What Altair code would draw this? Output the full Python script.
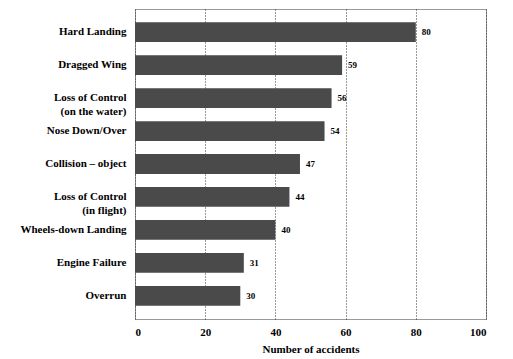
import altair as alt
import pandas as pd

categories = [
    "Hard Landing",
    "Dragged Wing",
    "Loss of Control\n(on the water)",
    "Nose Down/Over",
    "Collision – object",
    "Loss of Control\n(in flight)",
    "Wheels-down Landing",
    "Engine Failure",
    "Overrun",
]
values = [80, 59, 56, 54, 47, 44, 40, 31, 30]
x_ticks = [0, 20, 40, 60, 80, 100]

df = pd.DataFrame({"cause": categories, "count": values})

FONT = "Liberation Serif, Times New Roman, DejaVu Serif, serif"

y_enc = alt.Y(
    "cause:N",
    sort=categories,
    scale=alt.Scale(paddingInner=0.4, paddingOuter=0.4),
    axis=alt.Axis(
        title=None,
        labelExpr="split(datum.label, '\\n')",
        labelFont=FONT,
        labelFontSize=11,
        labelFontWeight="bold",
        labelColor="#000000",
        labelPadding=9,
        labelLineHeight=14,
        ticks=False,
        domain=False,
        grid=False,
        labelLimit=200,
    ),
)

x_enc = alt.X(
    "count:Q",
    scale=alt.Scale(domain=[0, 100], nice=False),
    axis=alt.Axis(
        title="Number of accidents",
        values=x_ticks,
        titleFont=FONT,
        titleFontSize=11,
        titleFontWeight="bold",
        titleColor="#000000",
        titlePadding=6,
        labelFont=FONT,
        labelFontSize=11,
        labelFontWeight="bold",
        labelColor="#000000",
        labelPadding=7,
        ticks=False,
        domain=False,
        grid=True,
        gridColor="#333333",
        gridDash=[1, 2],
        gridWidth=1,
    ),
)

bars = alt.Chart(df).mark_bar(color="#4a4a4a").encode(x=x_enc, y=y_enc)

text = alt.Chart(df).mark_text(
    align="left", baseline="middle", dx=6, font=FONT, fontSize=9,
    fontWeight="bold", color="#000000"
).encode(
    x=alt.X("count:Q"),
    y=alt.Y("cause:N", sort=categories),
    text="count:Q",
)

chart = (
    alt.layer(bars, text)
    .properties(
        width=351,
        height=310,
        autosize=alt.AutoSizeParams(type="none"),
        padding={"left": 127, "top": 1, "right": 10, "bottom": 40},
        background="#ffffff",
    )
    .configure_view(stroke="#999999", strokeWidth=1)
)

chart.save("out.html", embed_options={"renderer": "svg", "actions": False})
